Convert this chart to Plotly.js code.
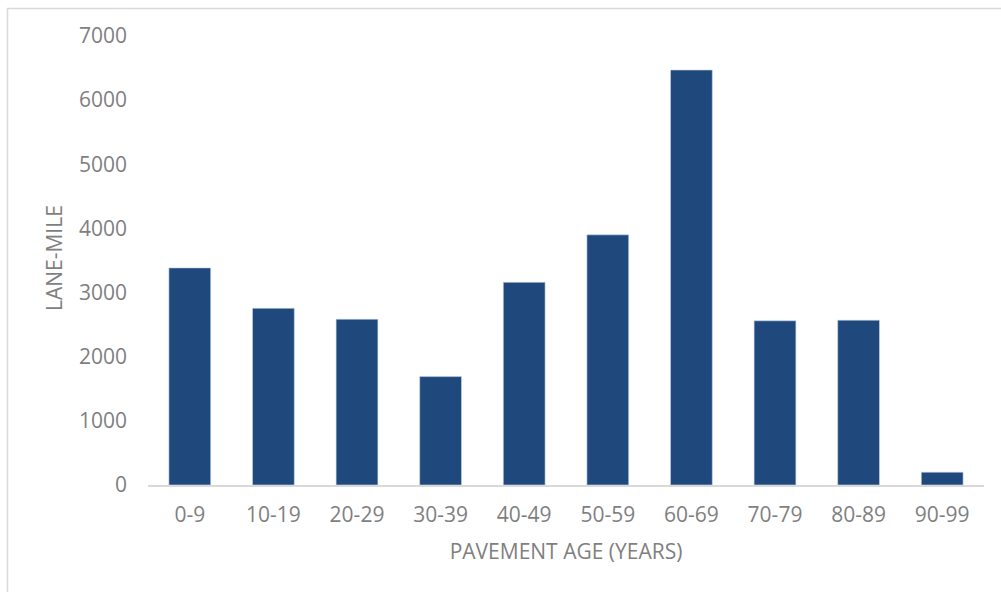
<!DOCTYPE html>
<html>
<head>
<meta charset="utf-8">
<script src="https://cdn.plot.ly/plotly-3.0.1.min.js"></script>
<style>
html,body{margin:0;padding:0;background:#fff;}
#chart{width:1001px;height:592px;}
</style>
</head>
<body>
<div id="chart"></div>
<script>
const categories = ["0-9","10-19","20-29","30-39","40-49","50-59","60-69","70-79","80-89","90-99"];
const laneMiles = [3385, 2755, 2585, 1690, 3160, 3900, 6470, 2560, 2570, 200];
const yTicks = [0,1000,2000,3000,4000,5000,6000,7000];

const L = 148, R = 17, T = 36, B = 107, W = 1001, H = 592;
const pw = W - L - R, ph = H - T - B;
const px = v => (v - L) / pw;
const py = v => (H - B - v) / ph;

const trace = {
  type: 'bar',
  x: categories,
  y: laneMiles,
  marker: {color: '#1F497D', line: {color: 'rgba(200,215,235,0.8)', width: 0.75}},
  width: 0.5,
  hoverinfo: 'x+y'
};

const font = {family: 'Open Sans, sans-serif', size: 21, color: '#7f7f7f'};

const layout = {
  width: W, height: H,
  margin: {l: L, r: R, t: T, b: B, pad: 0},
  paper_bgcolor: '#fff', plot_bgcolor: '#fff',
  showlegend: false,
  font: font,
  xaxis: {
    type: 'category',
    tickfont: font,
    showgrid: false,
    zeroline: false,
    showline: true,
    linecolor: '#d9d9d9',
    linewidth: 1.5,
    ticks: '',
    ticklabelstandoff: 10,
    title: {text: 'PAVEMENT AGE (YEARS)', font: font, standoff: 17}
  },
  yaxis: {
    range: [0, 7000],
    tickvals: yTicks,
    ticktext: yTicks.map(String),
    tickfont: font,
    showgrid: false,
    zeroline: false,
    showline: false,
    ticks: '',
    ticklabelstandoff: 20
  },
  annotations: [{
    text: 'LANE-MILE', xref: 'paper', yref: 'paper',
    x: px(54), y: py(258), xanchor: 'center', yanchor: 'middle',
    textangle: -90, showarrow: false, font: font
  }],
  shapes: [{
    type: 'rect', xref: 'paper', yref: 'paper',
    x0: px(7.5), x1: px(1015), y0: py(8.5), y1: py(610),
    line: {color: '#d9d9d9', width: 1.5},
    fillcolor: 'rgba(0,0,0,0)', layer: 'below'
  }]
};

Plotly.newPlot('chart', [trace], layout, {displayModeBar: false, staticPlot: true});
</script>
</body>
</html>
